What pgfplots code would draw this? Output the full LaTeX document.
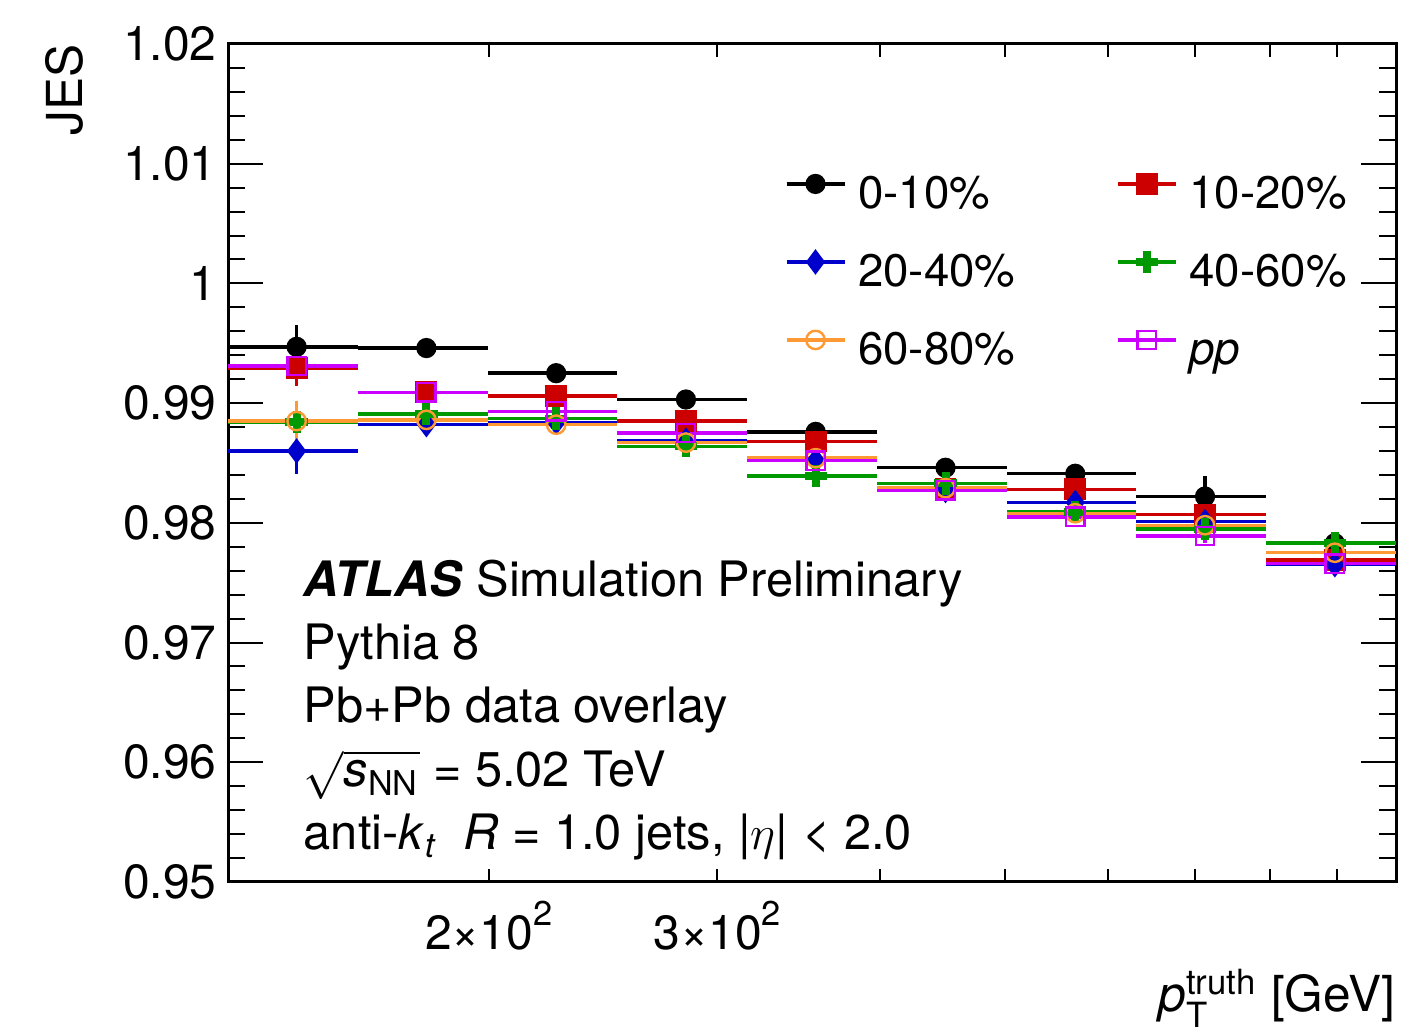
\documentclass[border=0pt]{standalone}
\usepackage{fontspec}
\setmainfont{TeX Gyre Heros}
\usepackage{amsmath}
\usepackage{pgfplots}
\usepackage{pgfplotstable}
\pgfplotsset{compat=1.18}

\definecolor{cred}{RGB}{204,0,0}
\definecolor{cblue}{RGB}{0,0,204}
\definecolor{cgreen}{RGB}{0,153,0}
\definecolor{corange}{RGB}{255,153,51}
\definecolor{cmag}{RGB}{204,0,255}

% bin centre, half bin width, then JES and error per centrality
\pgfplotstableread{
x       hw      c0     e0     c1     e1     c2     e2     c3     e3     c4     e4     c5     e5
142.191 16.298  0.9947 0.0018 0.9929 0.0015 0.9860 0.0019 0.9884 0.0015 0.9885 0.0017 0.9931 0.0010
179.008 20.519  0.9946 0.0004 0.9909 0.0005 0.9882 0.0006 0.9891 0.0008 0.9886 0.0005 0.9909 0.0005
225.358 25.832  0.9925 0.0004 0.9906 0.0005 0.9884 0.0005 0.9887 0.0006 0.9882 0.0005 0.9893 0.0005
283.709 32.520  0.9903 0.0004 0.9885 0.0005 0.9869 0.0005 0.9864 0.0008 0.9867 0.0005 0.9875 0.0005
357.168 40.940  0.9876 0.0004 0.9868 0.0006 0.9852 0.0005 0.9839 0.0009 0.9854 0.0005 0.9852 0.0005
449.647 51.540  0.9846 0.0004 0.9828 0.0005 0.9827 0.0005 0.9833 0.0006 0.9829 0.0005 0.9827 0.0005
566.072 64.885  0.9841 0.0004 0.9828 0.0006 0.9817 0.0006 0.9809 0.0006 0.9808 0.0006 0.9805 0.0005
712.643 81.686  0.9822 0.0017 0.9807 0.0008 0.9801 0.0010 0.9795 0.0008 0.9798 0.0007 0.9789 0.0006
897.164 102.836 0.9783 0.0005 0.9769 0.0005 0.9765 0.0006 0.9783 0.0006 0.9775 0.0005 0.9766 0.0005
}\jes

\pgfplotsset{
  jes/.style={only marks, line width=0.85pt,
    error bars/x dir=both, error bars/x explicit,
    error bars/y dir=both, error bars/y explicit,
    error bars/error mark=none,
    error bars/error bar style={line width=0.85pt, solid}},
}
\newcommand{\tenp}[1]{#1\texttimes10\raisebox{0.5em}{\fontsize{8.6}{9}\selectfont 2}}

\begin{document}
\begin{tikzpicture}
\begin{axis}[
    scale only axis,
    width=292pt, height=209.5pt,
    xmode=log,
    xmin=125.893, xmax=1000,
    ymin=0.95, ymax=1.02,
    xtick={200,300},
    xticklabels={\tenp{2}, \tenp{3}},
    minor xtick={400,500,600,700,800,900},
    ytick={0.95,0.96,0.97,0.98,0.99,1,1.01,1.02},
    yticklabels={0.95,0.96,0.97,0.98,0.99,1,1.01,1.02},
    minor y tick num=4,
    tick pos=both,
    tick align=inside,
    major tick length=8.75pt,
    minor tick length=4.3pt,
    xtick style={/pgfplots/major tick length=3.25pt, /pgfplots/minor tick length=3.25pt},
    tick style={line width=0.5pt, black},
    axis line style={line width=0.75pt},
    tick label style={font=\fontsize{12}{14}\selectfont},
    yticklabel style={inner sep=0pt, xshift=-2.7pt},
    xticklabel style={anchor=base, yshift=-17pt},
    ylabel={JES},
    ylabel style={at={(axis description cs:-0.1404,1.0)}, anchor=east, inner sep=0pt,
      font=\fontsize{12.4}{14}\selectfont},
    xlabel={$\textit{p}_{\text{T}}^{\text{truth}}$ [GeV]},
    xlabel style={at={(axis description cs:1,-0.155)}, anchor=base east, inner sep=0pt,
      font=\fontsize{12.4}{14}\selectfont},
    legend columns=2,
    legend cell align=left,
    legend style={draw=none, fill=none, at={(axis description cs:0.476,0.8473)},
      anchor=north west, inner sep=0pt, row sep=7.5pt,
      font=\fontsize{11.4}{13}\selectfont,
      nodes={inner sep=0pt, text height=9pt, text depth=3pt},
      /tikz/every odd column/.append style={column sep=3pt},
      /tikz/every even column/.append style={column sep=25.2pt}},
    legend image code/.code={
      \draw[#1, line width=0.85pt] (0pt,3.2pt) -- (14.5pt,3.2pt);
      \draw[#1] plot coordinates {(7.25pt,3.2pt)};},
]
\addplot[jes, black, mark=*, mark size=2.1pt]
  table[x=x, y=c0, x error=hw, y error=e0] {\jes};
\addplot[jes, cred, mark=square*, mark size=2.3pt]
  table[x=x, y=c1, x error=hw, y error=e1] {\jes};
\addplot[jes, cblue, mark=diamond*, mark size=2.5pt]
  table[x=x, y=c2, x error=hw, y error=e2] {\jes};
\addplot[jes, cgreen, mark=+, mark size=2.8pt, mark options={line width=2pt}]
  table[x=x, y=c3, x error=hw, y error=e3] {\jes};
\addplot[jes, corange, mark=o, mark size=2.3pt, mark options={line width=0.6pt}]
  table[x=x, y=c4, x error=hw, y error=e4] {\jes};
\addplot[jes, cmag, mark=square, mark size=2.3pt, mark options={line width=0.6pt}]
  table[x=x, y=c5, x error=hw, y error=e5] {\jes};
\legend{0-10\%, 10-20\%, 20-40\%, 40-60\%, 60-80\%, \textit{pp}}

\node[anchor=base west, inner sep=0pt, font=\fontsize{12.2}{14}\selectfont]
  at (axis description cs:0.0642,0.3401) {\textbf{\textit{ATLAS}} Simulation Preliminary};
\node[anchor=base west, inner sep=0pt, font=\fontsize{12.2}{14}\selectfont]
  at (axis description cs:0.0642,0.2649) {Pythia 8};
\node[anchor=base west, inner sep=0pt, font=\fontsize{12.2}{14}\selectfont]
  at (axis description cs:0.0642,0.1897) {Pb+Pb data overlay};
\node[anchor=base west, inner sep=0pt, font=\fontsize{12.2}{14}\selectfont]
  at (axis description cs:0.0642,0.1134) {$\sqrt{\textit{s}_{\text{NN}}}$ = 5.02 TeV};
\node[anchor=base west, inner sep=0pt, font=\fontsize{12.2}{14}\selectfont]
  at (axis description cs:0.0642,0.0382) {anti-\textit{k}$_{\textit{t}}$\ \ \textit{R} = 1.0 jets, |$\eta$| < 2.0};
\end{axis}
\pgfresetboundingbox
\path[use as bounding box] ([xshift=-57pt,yshift=-38.5pt]current axis.south west)
  rectangle ([xshift=1.75pt,yshift=11pt]current axis.north east);
\end{tikzpicture}
\end{document}
